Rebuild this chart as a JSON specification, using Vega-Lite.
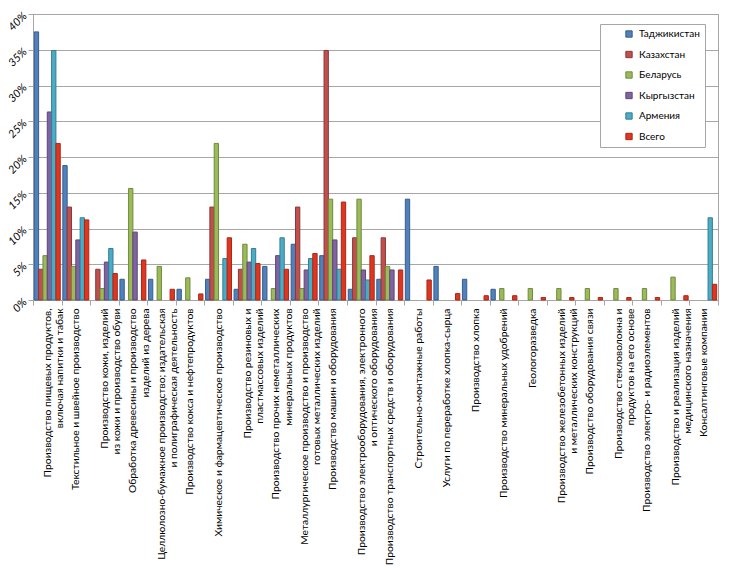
{
  "$schema": "https://vega.github.io/schema/vega-lite/v6.json",
  "width": 685,
  "height": 286,
  "autosize": {"type": "none"},
  "padding": {"left": 33, "top": 14, "right": 12, "bottom": 267},
  "background": "white",
  "config": {
    "view": {"stroke": "#A6A6A6", "strokeWidth": 1},
    "font": "Lato"
  },
  "datasets": {
    "cats": [
      {"i": 1, "name": "Производство пищевых продуктов,\nвключая напитки и табак"},
      {"i": 2, "name": "Текстильное и швейное производство"},
      {"i": 3, "name": "Производство кожи, изделий\nиз кожи и производство обуви"},
      {"i": 4, "name": "Обработка древесины и производство\nизделий из дерева"},
      {"i": 5, "name": "Целлюлозно-бумажное производство; издательская\nи полиграфическая деятельность"},
      {"i": 6, "name": "Производство кокса и нефтепродуктов"},
      {"i": 7, "name": "Химическое и фармацевтическое производство"},
      {"i": 8, "name": "Производство резиновых и\nпластмассовых изделий"},
      {"i": 9, "name": "Производство прочих неметаллических\nминеральных продуктов"},
      {"i": 10, "name": "Металлургическое производство и производство\nготовых металлических изделий"},
      {"i": 11, "name": "Производство машин и оборудования"},
      {"i": 12, "name": "Производство электрооборудования, электронного\nи оптического оборудования"},
      {"i": 13, "name": "Производство транспортных средств и оборудования"},
      {"i": 14, "name": "Строительно-монтажные работы"},
      {"i": 15, "name": "Услуги по переработке хлопка-сырца"},
      {"i": 16, "name": "Производство хлопка"},
      {"i": 17, "name": "Производство минеральных удобрений"},
      {"i": 18, "name": "Геологоразведка"},
      {"i": 19, "name": "Производство железобетонных изделий\nи металлических конструкций"},
      {"i": 20, "name": "Производство оборудования связи"},
      {"i": 21, "name": "Производство стекловолокна и\nпродуктов на его основе"},
      {"i": 22, "name": "Производство электро- и радиоэлементов"},
      {"i": 23, "name": "Производство и реализация изделий\nмедицинского назначения"},
      {"i": 24, "name": "Консалтинговые компании"}
    ],
    "bars": [
      {"i": 1, "s": "Таджикистан", "v": 37.5},
      {"i": 1, "s": "Казахстан", "v": 4.3},
      {"i": 1, "s": "Беларусь", "v": 6.2},
      {"i": 1, "s": "Кыргызстан", "v": 26.3},
      {"i": 1, "s": "Армения", "v": 34.9},
      {"i": 1, "s": "Всего", "v": 21.9},
      {"i": 2, "s": "Таджикистан", "v": 18.8},
      {"i": 2, "s": "Казахстан", "v": 13.0},
      {"i": 2, "s": "Беларусь", "v": 4.7},
      {"i": 2, "s": "Кыргызстан", "v": 8.4},
      {"i": 2, "s": "Армения", "v": 11.5},
      {"i": 2, "s": "Всего", "v": 11.2},
      {"i": 3, "s": "Казахстан", "v": 4.3},
      {"i": 3, "s": "Беларусь", "v": 1.6},
      {"i": 3, "s": "Кыргызстан", "v": 5.3},
      {"i": 3, "s": "Армения", "v": 7.2},
      {"i": 3, "s": "Всего", "v": 3.7},
      {"i": 4, "s": "Таджикистан", "v": 2.9},
      {"i": 4, "s": "Беларусь", "v": 15.6},
      {"i": 4, "s": "Кыргызстан", "v": 9.5},
      {"i": 4, "s": "Всего", "v": 5.6},
      {"i": 5, "s": "Таджикистан", "v": 2.9},
      {"i": 5, "s": "Беларусь", "v": 4.7},
      {"i": 5, "s": "Всего", "v": 1.5},
      {"i": 6, "s": "Таджикистан", "v": 1.5},
      {"i": 6, "s": "Беларусь", "v": 3.1},
      {"i": 6, "s": "Всего", "v": 0.85},
      {"i": 7, "s": "Таджикистан", "v": 2.9},
      {"i": 7, "s": "Казахстан", "v": 13.0},
      {"i": 7, "s": "Беларусь", "v": 21.9},
      {"i": 7, "s": "Армения", "v": 5.8},
      {"i": 7, "s": "Всего", "v": 8.7},
      {"i": 8, "s": "Таджикистан", "v": 1.5},
      {"i": 8, "s": "Казахстан", "v": 4.3},
      {"i": 8, "s": "Беларусь", "v": 7.8},
      {"i": 8, "s": "Кыргызстан", "v": 5.3},
      {"i": 8, "s": "Армения", "v": 7.2},
      {"i": 8, "s": "Всего", "v": 5.1},
      {"i": 9, "s": "Таджикистан", "v": 4.7},
      {"i": 9, "s": "Беларусь", "v": 1.6},
      {"i": 9, "s": "Кыргызстан", "v": 6.2},
      {"i": 9, "s": "Армения", "v": 8.7},
      {"i": 9, "s": "Всего", "v": 4.3},
      {"i": 10, "s": "Таджикистан", "v": 7.8},
      {"i": 10, "s": "Казахстан", "v": 13.0},
      {"i": 10, "s": "Беларусь", "v": 1.6},
      {"i": 10, "s": "Кыргызстан", "v": 4.2},
      {"i": 10, "s": "Армения", "v": 5.8},
      {"i": 10, "s": "Всего", "v": 6.5},
      {"i": 11, "s": "Таджикистан", "v": 6.2},
      {"i": 11, "s": "Казахстан", "v": 34.9},
      {"i": 11, "s": "Беларусь", "v": 14.1},
      {"i": 11, "s": "Кыргызстан", "v": 8.4},
      {"i": 11, "s": "Армения", "v": 4.3},
      {"i": 11, "s": "Всего", "v": 13.7},
      {"i": 12, "s": "Таджикистан", "v": 1.5},
      {"i": 12, "s": "Казахстан", "v": 8.7},
      {"i": 12, "s": "Беларусь", "v": 14.1},
      {"i": 12, "s": "Кыргызстан", "v": 4.2},
      {"i": 12, "s": "Армения", "v": 2.8},
      {"i": 12, "s": "Всего", "v": 6.2},
      {"i": 13, "s": "Таджикистан", "v": 2.9},
      {"i": 13, "s": "Казахстан", "v": 8.7},
      {"i": 13, "s": "Беларусь", "v": 4.7},
      {"i": 13, "s": "Кыргызстан", "v": 4.2},
      {"i": 13, "s": "Всего", "v": 4.2},
      {"i": 14, "s": "Таджикистан", "v": 14.1},
      {"i": 14, "s": "Всего", "v": 2.8},
      {"i": 15, "s": "Таджикистан", "v": 4.7},
      {"i": 15, "s": "Всего", "v": 0.9},
      {"i": 16, "s": "Таджикистан", "v": 2.9},
      {"i": 16, "s": "Всего", "v": 0.6},
      {"i": 17, "s": "Таджикистан", "v": 1.5},
      {"i": 17, "s": "Беларусь", "v": 1.6},
      {"i": 17, "s": "Всего", "v": 0.6},
      {"i": 18, "s": "Беларусь", "v": 1.6},
      {"i": 18, "s": "Всего", "v": 0.35},
      {"i": 19, "s": "Беларусь", "v": 1.6},
      {"i": 19, "s": "Всего", "v": 0.35},
      {"i": 20, "s": "Беларусь", "v": 1.6},
      {"i": 20, "s": "Всего", "v": 0.35},
      {"i": 21, "s": "Беларусь", "v": 1.6},
      {"i": 21, "s": "Всего", "v": 0.35},
      {"i": 22, "s": "Беларусь", "v": 1.6},
      {"i": 22, "s": "Всего", "v": 0.35},
      {"i": 23, "s": "Беларусь", "v": 3.2},
      {"i": 23, "s": "Всего", "v": 0.6},
      {"i": 24, "s": "Армения", "v": 11.5},
      {"i": 24, "s": "Всего", "v": 2.2}
    ]
  },
  "data": {"name": "bars"},
  "transform": [
    {"lookup": "i", "from": {"data": {"name": "cats"}, "key": "i", "fields": ["name"]}}
  ],
  "mark": {"type": "bar", "strokeWidth": 1},
  "encoding": {
    "x": {
      "field": "name",
      "type": "nominal",
      "sort": {"field": "i", "op": "min"},
      "scale": {"paddingInner": 0, "paddingOuter": 0},
      "axis": {
        "title": null,
        "labelAngle": -90,
        "labelAlign": "right",
        "labelBaseline": "middle",
        "labelFont": "Lato",
        "labelFontSize": 10.3,
        "labelColor": "#000000",
        "labelLimit": 400,
        "labelLineHeight": 12.5,
        "labelOverlap": false,
        "labelExpr": "datum.value ? split(datum.value, '\\n') : ''",
        "labelPadding": 3,
        "tickBand": "extent",
        "tickSize": 5,
        "tickColor": "#A6A6A6",
        "domainColor": "#A6A6A6"
      }
    },
    "y": {
      "field": "v",
      "type": "quantitative",
      "scale": {"domain": [0, 40]},
      "axis": {
        "title": null,
        "values": [0, 5, 10, 15, 20, 25, 30, 35, 40],
        "labelExpr": "datum.value + '%'",
        "labelAngle": -45,
        "labelAlign": "right",
        "labelBaseline": "middle",
        "labelFont": "Lato",
        "labelFontSize": 11,
        "labelFontStyle": "italic",
        "labelColor": "#000000",
        "labelPadding": 3,
        "gridColor": "#A6A6A6",
        "domainColor": "#A6A6A6",
        "tickColor": "#A6A6A6",
        "tickSize": 5
      }
    },
    "xOffset": {
      "field": "s",
      "type": "nominal",
      "scale": {
        "domain": ["Таджикистан", "Казахстан", "Беларусь", "Кыргызстан", "Армения", "Всего"],
        "paddingInner": 0,
        "paddingOuter": 0.3
      }
    },
    "fill": {
      "field": "s",
      "type": "nominal",
      "scale": {
        "domain": ["Таджикистан", "Казахстан", "Беларусь", "Кыргызстан", "Армения", "Всего"],
        "range": ["#4F81BD", "#C0504D", "#9BBB59", "#8064A2", "#4BACC6", "#E0361F"]
      },
      "legend": {
        "title": "\u00a0",
        "titleOrient": "left",
        "titlePadding": 19,
        "titleFontSize": 10,
        "orient": "none",
        "legendX": 567,
        "legendY": 10,
        "strokeColor": "#A6A6A6",
        "fillColor": "#FFFFFF",
        "padding": 5,
        "symbolType": "square",
        "symbolSize": 40,
        "symbolStrokeWidth": 1,
        "labelOffset": 5,
        "labelFont": "Lato",
        "labelFontSize": 10,
        "labelColor": "#000000",
        "rowPadding": 8.5,
        "labelExpr": "datum.label + '\u00a0\u00a0\u00a0\u00a0\u00a0\u00a0\u00a0\u00a0\u00a0\u00a0\u00a0\u00a0\u00a0\u00a0'",
        "encode": {
          "symbols": {"update": {"stroke": {"scale": "stroke", "field": "value"}}}
        }
      }
    },
    "stroke": {
      "field": "s",
      "type": "nominal",
      "scale": {
        "domain": ["Таджикистан", "Казахстан", "Беларусь", "Кыргызстан", "Армения", "Всего"],
        "range": ["#385D8A", "#8C3836", "#71893F", "#5C4776", "#357D91", "#A8281A"]
      },
      "legend": null
    }
  }
}
